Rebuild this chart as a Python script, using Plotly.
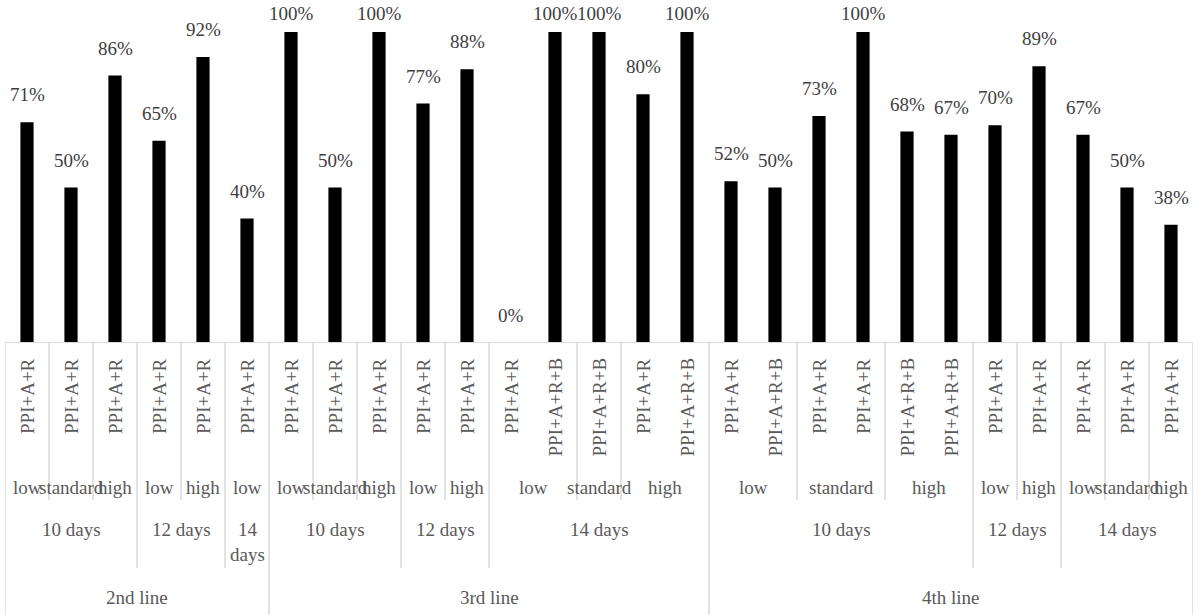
import plotly.graph_objects as go

# categories (4 levels, outer -> inner) and values
lines = ["2nd line"] * 6 + ["3rd line"] * 10 + ["4th line"] * 11
days = (["10 days"] * 3 + ["12 days"] * 2 + ["14 days"]
        + ["10 days"] * 3 + ["12 days"] * 2 + ["14 days"] * 5
        + ["10 days"] * 6 + ["12 days"] * 2 + ["14 days"] * 3)
levels = (["low", "standard", "high", "low", "high", "low"]
          + ["low", "standard", "high", "low", "high", "low", "low", "standard", "high", "high"]
          + ["low", "low", "standard", "standard", "high", "high", "low", "high", "low", "standard", "high"])
treatments = (["PPI+A+R"] * 6
              + ["PPI+A+R"] * 5 + ["PPI+A+R", "PPI+A+R+B", "PPI+A+R+B", "PPI+A+R", "PPI+A+R+B"]
              + ["PPI+A+R", "PPI+A+R+B", "PPI+A+R", "PPI+A+R", "PPI+A+R+B", "PPI+A+R+B"]
              + ["PPI+A+R"] * 5)
values = [0.71, 0.50, 0.86, 0.65, 0.92, 0.40,
          1.00, 0.50, 1.00, 0.77, 0.88, 0.00, 1.00, 1.00, 0.80, 1.00,
          0.52, 0.50, 0.73, 1.00, 0.68, 0.67, 0.70, 0.89, 0.67, 0.50, 0.38]

n = len(values)
x = list(range(n))
PLOT_H = 311
FONT = "Liberation Serif, DejaVu Serif, serif"
FS = 19
GREY = "#595959"
LINE_GREY = "#d9d9d9"

fig = go.Figure()
fig.add_trace(go.Bar(x=x, y=values, width=0.3, marker_color="black",
                     marker_line_width=0, cliponaxis=False, hoverinfo="skip"))

annotations = []
# data labels above bars
for i, v in enumerate(values):
    gap = min(15, 6 + (1 - v) * PLOT_H)
    annotations.append(dict(x=i, y=v, xref="x", yref="y", text=f"{v:.0%}",
                            showarrow=False, yanchor="bottom", yshift=gap,
                            font=dict(family=FONT, size=FS, color="#404040")))


def runs(keys):
    out = []
    start = 0
    for i in range(1, n + 1):
        if i == n or keys[i] != keys[start]:
            out.append((start, i - 1))
            start = i
    return out


# level 1: rotated treatment labels
for i, t in enumerate(treatments):
    annotations.append(dict(x=i, y=0, xref="x", yref="paper", text=t, textangle=-90,
                            showarrow=False, yanchor="top", yshift=-13,
                            font=dict(family=FONT, size=FS, color=GREY)))

k_level = list(zip(lines, days, levels))
k_days = list(zip(lines, days))

for a, b in runs(k_level):
    annotations.append(dict(x=(a + b) / 2, y=0, xref="x", yref="paper", text=levels[a],
                            showarrow=False, yanchor="middle", yshift=-144,
                            font=dict(family=FONT, size=FS, color=GREY)))
for a, b in runs(k_days):
    label = days[a] if b > a else days[a].replace(" ", "<br>")
    annotations.append(dict(x=(a + b) / 2, y=0, xref="x", yref="paper", text=label,
                            showarrow=False, yanchor="top", yshift=-174,
                            font=dict(family=FONT, size=FS, color=GREY)))
for a, b in runs(lines):
    annotations.append(dict(x=(a + b) / 2, y=0, xref="x", yref="paper", text=lines[a],
                            showarrow=False, yanchor="middle", yshift=-254,
                            font=dict(family=FONT, size=FS, color=GREY)))

# separator lines of the category axis
shapes = [dict(type="line", xref="paper", yref="y", x0=0, x1=1, y0=0, y1=0,
               line=dict(color=LINE_GREY, width=2))]
for i in range(n + 1):
    if i == 0 or i == n or lines[i] != lines[i - 1]:
        depth = 272
    elif days[i] != days[i - 1]:
        depth = 225
    elif levels[i] != levels[i - 1]:
        depth = 157
    else:
        continue
    shapes.append(dict(type="line", xref="x", yref="paper", ysizemode="pixel", yanchor=0,
                       x0=i - 0.5, x1=i - 0.5, y0=0, y1=-depth,
                       line=dict(color=LINE_GREY, width=1.5)))

fig.update_layout(
    width=1200, height=615,
    margin=dict(l=5, r=7, t=32, b=272),
    plot_bgcolor="white", paper_bgcolor="white",
    showlegend=False,
    xaxis=dict(range=[-0.5, n - 0.5], visible=False),
    yaxis=dict(range=[0, 1], visible=False),
    annotations=annotations,
    shapes=shapes,
)

# drop the page's default body margin so the figure sits at the window's corner
fig.write_html("out.html", config={"displayModeBar": False},
               post_script="document.body.style.margin='0';")
